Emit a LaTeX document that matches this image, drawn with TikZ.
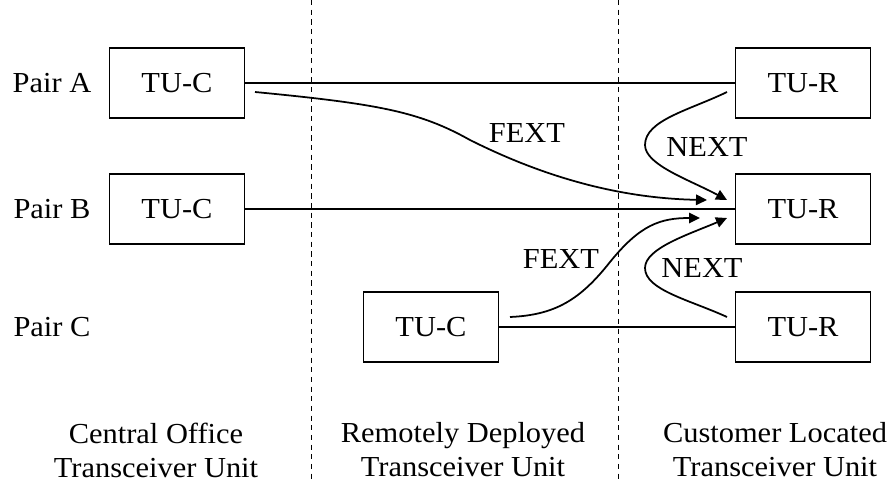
\documentclass[tikz,border=0pt]{standalone}
\usepackage{fontspec}
\setmainfont{Liberation Serif}[FakeStretch=1.05]
\usetikzlibrary{arrows.meta}
\tikzstyle{unitBox}=[shape = rectangle, draw, line width = 1.1pt, minimum width = 2.7cm, minimum height = 1.4cm, inner sep = 0pt]
\tikzstyle{wireLine}=[line width = 1.1pt]
\tikzstyle{crossTalk}=[line width = 1pt, -{Triangle[length=2.2mm, width=2.1mm]}]
\tikzstyle{plainText}=[inner sep = 0pt, align = center]
\begin{document}
\begin{tikzpicture}[x = 0.02cm, y = -0.02cm, font = \fontsize{16.5}{19.3}\selectfont]
\useasboundingbox (0,0) rectangle (889,483);
\tikzstyle{zoneLine}=[line width = 0.5pt, dash pattern = on 3pt off 2.5pt]
% zones
\draw[zoneLine] (311,0) -- (311,483);
\draw[zoneLine] (618,0) -- (618,483);
% units
\node[unitBox] (tca) at (177,83) {TU-C};
\node[unitBox] (tcb) at (177,209) {TU-C};
\node[unitBox] (tcc) at (431,327) {TU-C};
\node[unitBox] (tra) at (803,83) {TU-R};
\node[unitBox] (trb) at (803,209) {TU-R};
\node[unitBox] (trc) at (803,327) {TU-R};
% pair names
\node[plainText] (pa) at (52,83) {Pair A};
\node[plainText] (pb) at (52,209) {Pair B};
\node[plainText] (pc) at (52,327) {Pair C};
% zone names
\node[plainText] (zco) at (156,450) {Central Office\\Transceiver Unit};
\node[plainText] (zrd) at (463,450) {Remotely Deployed\\Transceiver Unit};
\node[plainText] (zcl) at (775,450) {Customer Located\\Transceiver Unit};
% pairs
\draw[wireLine] (tca.east) -- (tra.west);
\draw[wireLine] (tcb.east) -- (trb.west);
\draw[wireLine] (tcc.east) -- (trc.west);
% crosstalk
\coordinate (f1s) at (255,92);
\coordinate (f1e) at (707,200);
\coordinate (f2s) at (510,317);
\coordinate (f2e) at (700,218);
\coordinate (n1s) at (727,92);
\coordinate (n1e) at (727,200);
\coordinate (n2s) at (727,317);
\coordinate (n2e) at (727,218);
\draw[crossTalk] (f1s) .. controls (380,104) and (420,112) .. (470,140) .. controls (520,165) and (600,198) .. (f1e);
\draw[crossTalk] (f2s) .. controls (555,315) and (580,300) .. (610,262) .. controls (640,225) and (660,218) .. (f2e);
\draw[crossTalk] (n1s) .. controls (690,110) and (645,120) .. (645,145) .. controls (645,165) and (690,180) .. (n1e);
\draw[crossTalk] (n2s) .. controls (690,300) and (645,290) .. (645,268) .. controls (645,248) and (690,234) .. (n2e);
\node[plainText] (fa) at (527,133) {FEXT};
\node[plainText] (fc) at (561,259) {FEXT};
\node[plainText] (na) at (707,147) {NEXT};
\node[plainText] (nc) at (702,268) {NEXT};
\end{tikzpicture}
\end{document}
